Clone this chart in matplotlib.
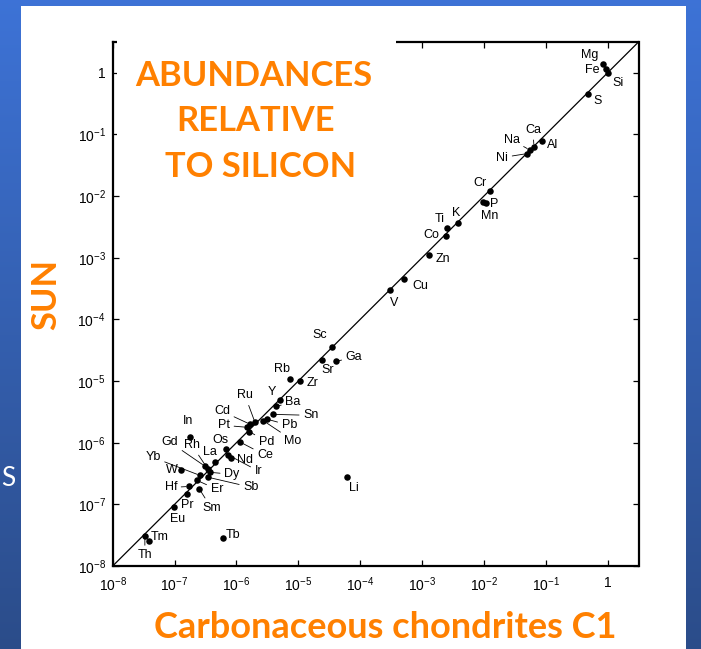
import numpy as np
import matplotlib
matplotlib.use("Agg")
import matplotlib.pyplot as plt
from matplotlib.patches import Rectangle
from matplotlib.ticker import FixedLocator, FuncFormatter

plt.rcParams["font.family"] = ["Liberation Sans", "DejaVu Sans"]
plt.rcParams["mathtext.fontset"] = "custom"
plt.rcParams["mathtext.rm"] = "Liberation Sans"
plt.rcParams["mathtext.it"] = "Liberation Sans:italic"

# Abundances relative to Si as log10 values
elements = ["Mg", "Fe", "Si", "S", "Al", "Ca", "Na", "Ni", "Cr", "P", "Mn",
            "K", "Ti", "Co", "Zn", "Cu", "V", "Sc", "Sr", "Ga", "Rb", "Zr",
            "Y", "Ba", "Sn", "Pb", "Mo", "Pd", "Ru", "Cd", "Pt", "In", "Os",
            "Ce", "Nd", "La", "Ir", "Rh", "Gd", "Dy", "Sb", "Yb", "W", "Er",
            "Hf", "Sm", "Pr", "Eu", "Tm", "Th", "Tb", "Li"]
chondrite_log = [-0.07, -0.02, 0.0, -0.31, -1.06, -1.19, -1.26, -1.30, -1.90,
                 -1.96, -2.02, -2.41, -2.59, -2.62, -2.88, -3.29, -3.52, -4.46,
                 -4.62, -4.39, -5.14, -4.97, -5.29, -5.36, -5.41, -5.50, -5.57,
                 -5.79, -5.70, -5.78, -5.83, -6.75, -6.17, -5.94, -6.09, -6.35,
                 -6.13, -6.46, -6.51, -6.43, -6.46, -6.59, -6.90, -6.64, -6.77,
                 -6.60, -6.80, -7.01, -7.41, -7.48, -6.22, -4.21]
sun_log = [0.14, 0.07, 0.0, -0.34, -1.10, -1.20, -1.25, -1.31, -1.91, -2.11,
           -2.09, -2.43, -2.51, -2.65, -2.96, -3.35, -3.53, -4.44, -4.66,
           -4.68, -4.97, -5.00, -5.31, -5.41, -5.54, -5.62, -5.64, -5.82,
           -5.67, -5.70, -5.75, -5.90, -6.11, -5.99, -6.24, -6.31, -6.20,
           -6.43, -6.38, -6.48, -6.56, -6.53, -6.45, -6.61, -6.71, -6.75,
           -6.84, -7.05, -7.60, -7.52, -7.55, -6.56]

decades = [-8, -7, -6, -5, -4, -3, -2, -1, 0]

# label placement: offset in pixels from the dot, and whether a leader line is drawn
label_layout = {
    "Mg": (-14, 9, True), "Fe": (-14, -1, False), "Si": (10, -10, False),
    "S": (9, -7, False), "Al": (11, -4, False), "Ca": (-1, 17, True),
    "Na": (-18, 10, True), "Ni": (-25, -4, True), "Cr": (-10, 8, False),
    "P": (8, -1, False), "Mn": (7, -14, True), "K": (-2, 10, False),
    "Ti": (-8, 9, False), "Co": (-14, 1, False), "Zn": (14, -4, False),
    "Cu": (16, -7, False), "V": (4, -13, False), "Sc": (-12, 12, False),
    "Sr": (6, -10, False), "Ga": (18, 4, True), "Rb": (-8, 10, False),
    "Zr": (12, -2, False), "Y": (-8, 8, False), "Ba": (17, 4, True),
    "Sn": (38, -1, True), "Pb": (22, -6, True), "Mo": (30, -20, True),
    "Pd": (17, -10, True), "Ru": (-10, 27, True), "Cd": (-28, 13, True),
    "Pt": (-23, 2, True), "In": (-2, 16, False), "Os": (-5, 9, False),
    "Ce": (25, -13, True), "Nd": (14, -2, True), "La": (-5, 10, False),
    "Ir": (30, -16, True), "Rh": (-16, 24, True), "Gd": (-35, 24, True),
    "Dy": (22, -2, True), "Sb": (43, -10, True), "Yb": (-47, 18, True),
    "W": (-9, 0, False), "Er": (20, -9, True), "Hf": (-18, -1, True),
    "Sm": (12, -19, True), "Pr": (0, -11, False), "Eu": (4, -12, False),
    "Tm": (10, 4, False), "Th": (0, -19, True), "Tb": (10, 3, False),
    "Li": (7, -11, False),
}

ORANGE = "#ff8000"
W, H = 701, 649
fig = plt.figure(figsize=(W / 100, H / 100), dpi=100)

# slide background: blue gradient with a white panel
bg = fig.add_axes([0, 0, 1, 1], zorder=-10)
grad = np.linspace(0, 1, 256)[:, None]
top = np.array([0.24, 0.45, 0.84])
bottom = np.array([0.17, 0.30, 0.54])
img = top[None, None, :] * (1 - grad[:, :, None]) + bottom[None, None, :] * grad[:, :, None]
bg.imshow(img, aspect="auto", extent=[0, 1, 0, 1])
bg.set_axis_off()
fig.patches.append(Rectangle((21 / W, 0), (686 - 21) / W, (H - 6) / H,
                             transform=fig.transFigure, facecolor="white",
                             edgecolor="none", zorder=-5))
fig.text(1 / W, 1 - 478 / H, "S", color="white", fontsize=19,
         family=["Lato", "DejaVu Sans"], ha="left", va="center")

ax = fig.add_axes([112.7 / W, 1 - 566 / H, (638.5 - 112.7) / W, (566 - 42) / H])
ax.set_xscale("log")
ax.set_yscale("log")
lim = (1e-8, 10 ** 0.5)
ax.set_xlim(lim)
ax.set_ylim(lim)

ax.axline((1e-8, 1e-8), (1, 1), color="black", lw=0.9, zorder=2)

xs = 10.0 ** np.array(chondrite_log)
ys = 10.0 ** np.array(sun_log)
ax.scatter(xs, ys, s=22, color="black", zorder=3, linewidths=0)

for name, x, y in zip(elements, xs, ys):
    dx, dy, leader = label_layout[name]
    ax.annotate(name, (x, y), xytext=(dx, dy), textcoords="offset pixels",
                ha="center", va="center", fontsize=9, zorder=4,
                arrowprops=dict(arrowstyle="-", lw=0.6, color="black",
                                shrinkA=1, shrinkB=2) if leader else None)

tick_pos = [10.0 ** d for d in decades]
fmt = FuncFormatter(lambda v, p: "1" if abs(np.log10(v)) < 1e-9
                    else r"$10^{%d}$" % round(np.log10(v)))
for axis in (ax.xaxis, ax.yaxis):
    axis.set_major_locator(FixedLocator(tick_pos))
    axis.set_major_formatter(fmt)
    axis.set_minor_locator(FixedLocator([]))
ax.tick_params(which="major", direction="in", length=4, width=0.9,
               top=True, right=True, labelsize=10, colors="black")
ax.tick_params(axis="y", pad=5)
ax.tick_params(axis="x", pad=7)
for sp in ax.spines.values():
    sp.set_linewidth(1.6)

# white box behind the title covers part of the top frame
ax.add_patch(Rectangle((0.008, 0.72), 0.531, 0.3, transform=ax.transAxes,
                       facecolor="white", edgecolor="none", zorder=10,
                       clip_on=False))

title_font = dict(family=["Lato", "DejaVu Sans"], weight="bold", color=ORANGE,
                  fontsize=24.8, ha="center", va="center")
fig.text(254 / W, 1 - 76 / H, "ABUNDANCES", **title_font)
fig.text(256 / W, 1 - 121 / H, "RELATIVE", **title_font)
fig.text(261 / W, 1 - 167 / H, "TO SILICON", **title_font)
fig.text(46 / W, 1 - 295 / H, "SUN", rotation=90, **title_font)
fig.text(385 / W, 1 - 627 / H, "Carbonaceous chondrites C1",
         **{**title_font, "fontsize": 26})

fig.savefig("out.png", dpi=100)
